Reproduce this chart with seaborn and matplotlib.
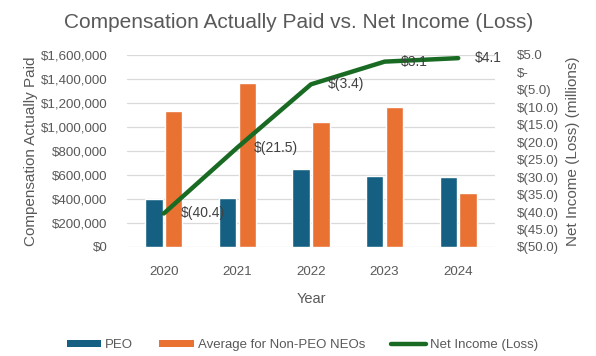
import matplotlib
matplotlib.use("Agg")
import matplotlib.pyplot as plt
import seaborn as sns
import pandas as pd
from matplotlib.ticker import FuncFormatter, FixedLocator
from matplotlib.patches import Patch
from matplotlib.lines import Line2D

years = ["2020", "2021", "2022", "2023", "2024"]
peo = [400000, 408000, 650000, 594000, 583000]
non_peo = [1133000, 1367000, 1044000, 1167000, 450000]
net_income = [-40.4, -21.5, -3.4, 3.1, 4.1]
series_names = ["PEO", "Average for Non-PEO NEOs"]
line_name = "Net Income (Loss)"

BLUE = "#156082"
ORANGE = "#E97132"
GREEN = "#196B24"
TXT = "#595959"
GRID = "#D9D9D9"

sns.set_theme(style="white")
plt.rcParams["font.family"] = ["Liberation Sans", "DejaVu Sans"]

df = pd.DataFrame({
    "Year": years * 2,
    "value": peo + non_peo,
    "series": [series_names[0]] * len(years) + [series_names[1]] * len(years),
})

fig = plt.figure(figsize=(5.96, 3.56), dpi=100)
ax = fig.add_axes([127 / 596, 1 - 247 / 356, (495 - 127) / 596, (247 - 55) / 356])

sns.barplot(data=df, x="Year", y="value", hue="series", order=years,
            hue_order=series_names, palette=[BLUE, ORANGE], width=0.54,
            gap=0.13, ax=ax, legend=False, saturation=1)

ax.set_ylim(0, 1600000)
ax.yaxis.set_major_locator(FixedLocator(range(0, 1600001, 200000)))
ax.yaxis.set_major_formatter(FuncFormatter(lambda v, p: f"${v:,.0f}"))
ax.grid(axis="y", color=GRID, linewidth=0.9)
ax.set_axisbelow(True)
for s in ax.spines.values():
    s.set_visible(False)
ax.tick_params(axis="both", length=0, colors=TXT)
ax.tick_params(axis="y", labelsize=9.6, pad=14)
ax.tick_params(axis="x", labelsize=9.6, pad=14)
ax.set_xlim(-0.5, 4.5)
ax.set_xlabel("Year", color=TXT, fontsize=10.5, labelpad=10)
ax.set_ylabel("Compensation Actually Paid", color=TXT, fontsize=11, labelpad=2)

ax2 = ax.twinx()
xpos = list(range(len(years)))
sns.lineplot(x=xpos, y=net_income, ax=ax2, color=GREEN, linewidth=3.2,
             legend=False)
ax2.set_ylim(-50, 5)
ax2.yaxis.set_major_locator(FixedLocator([5 * k for k in range(-10, 2)]))


def fmt_m(v, p=None):
    if abs(v) < 1e-9:
        return "$-"
    if v < 0:
        return f"$({abs(v):.1f})"
    return f"${v:.1f}"


ax2.yaxis.set_major_formatter(FuncFormatter(fmt_m))
ax2.tick_params(axis="y", length=0, colors=TXT, labelsize=9.5, pad=16)
for s in ax2.spines.values():
    s.set_visible(False)
ax2.grid(False)
ax2.set_ylabel("Net Income (Loss) (millions)", color=TXT, fontsize=11, labelpad=5)
ax2.set_xlim(-0.5, 4.5)

for x, v in zip(xpos, net_income):
    ax2.annotate(fmt_m(v), (x, v), xytext=(12, 0), textcoords="offset points",
                 ha="left", va="center", fontsize=10, color="#404040")

fig.suptitle("Compensation Actually Paid vs. Net Income (Loss)", x=0.501,
             y=1 - 22 / 356, va="center", fontsize=15, color=TXT)

handles = [Patch(facecolor=BLUE, edgecolor="none"),
           Patch(facecolor=ORANGE, edgecolor="none"),
           Line2D([0], [0], color=GREEN, linewidth=3.2)]
labels = series_names + [line_name]
fig.legend(handles, labels, loc="center", bbox_to_anchor=(0.507, 1 - 345 / 356),
           ncol=3, frameon=False, fontsize=9.5, labelcolor=TXT,
           handlelength=2.6, handleheight=0.45, handletextpad=0.3,
           columnspacing=2.0)

fig.savefig("out.png", dpi=100)
